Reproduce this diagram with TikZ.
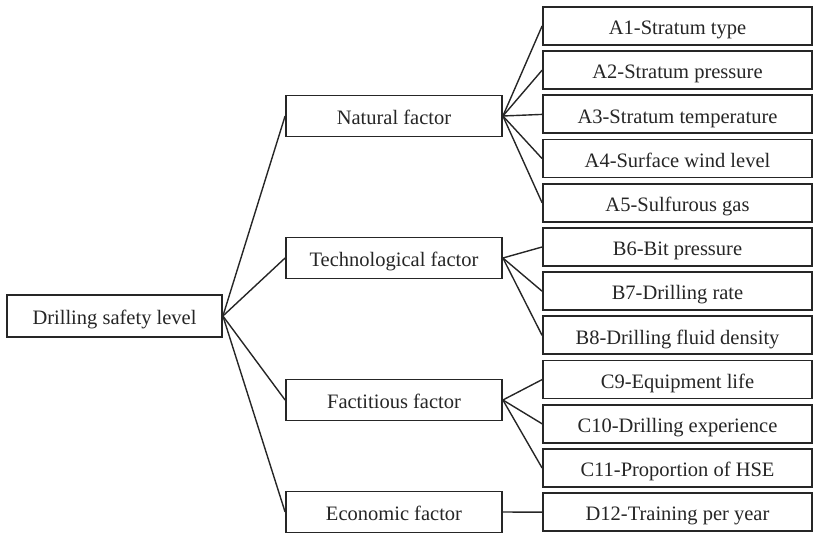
\documentclass[tikz,border=0pt]{standalone}
\usepackage{fontspec}
\setmainfont{Liberation Serif}
\begin{document}
\begin{tikzpicture}[x=1pt,y=-1pt,
  box/.style={draw=black!85,line width=1.8pt,fill=white,inner sep=0pt,text height=17.5pt,text depth=0pt,font=\fontsize{20.5}{22}\selectfont,text=black!85},
  rootbox/.style={box,minimum width=215pt,minimum height=42pt},
  parbox/.style={box,minimum width=216pt,minimum height=41pt},
  leafbox/.style={box,minimum width=269pt,minimum height=38pt},
  link/.style={draw=black!85,line width=1.4pt}]
\useasboundingbox (0,0) rectangle (814,534);
\node[rootbox] (root) at (114.5,316) {Drilling safety level};
\node[parbox] (nat) at (394,116) {Natural factor};
\node[parbox] (tec) at (394,258) {Technological factor};
\node[parbox] (fac) at (394,400) {Factitious factor};
\node[parbox] (eco) at (394,512) {Economic factor};
\node[leafbox] (a1) at (677.5,26) {A1-Stratum type};
\node[leafbox] (a2) at (677.5,70.2) {A2-Stratum pressure};
\node[leafbox] (a3) at (677.5,114.4) {A3-Stratum temperature};
\node[leafbox] (a4) at (677.5,158.6) {A4-Surface wind level};
\node[leafbox] (a5) at (677.5,202.8) {A5-Sulfurous gas};
\node[leafbox] (b6) at (677.5,247) {B6-Bit pressure};
\node[leafbox] (b7) at (677.5,291.2) {B7-Drilling rate};
\node[leafbox] (b8) at (677.5,335.4) {B8-Drilling fluid density};
\node[leafbox] (c9) at (677.5,379.6) {C9-Equipment life};
\node[leafbox] (c10) at (677.5,423.8) {C10-Drilling experience};
\node[leafbox] (c11) at (677.5,468) {C11-Proportion of HSE};
\node[leafbox] (d12) at (677.5,512.2) {D12-Training per year};
\foreach \p in {nat,tec,fac,eco} \draw[link] (root.east) -- (\p.west);
\foreach \c in {a1,a2,a3,a4,a5} \draw[link] (nat.east) -- (\c.west);
\foreach \c in {b6,b7,b8} \draw[link] (tec.east) -- (\c.west);
\foreach \c in {c9,c10,c11} \draw[link] (fac.east) -- (\c.west);
\draw[link] (eco.east) -- (d12.west);
\end{tikzpicture}
\end{document}
